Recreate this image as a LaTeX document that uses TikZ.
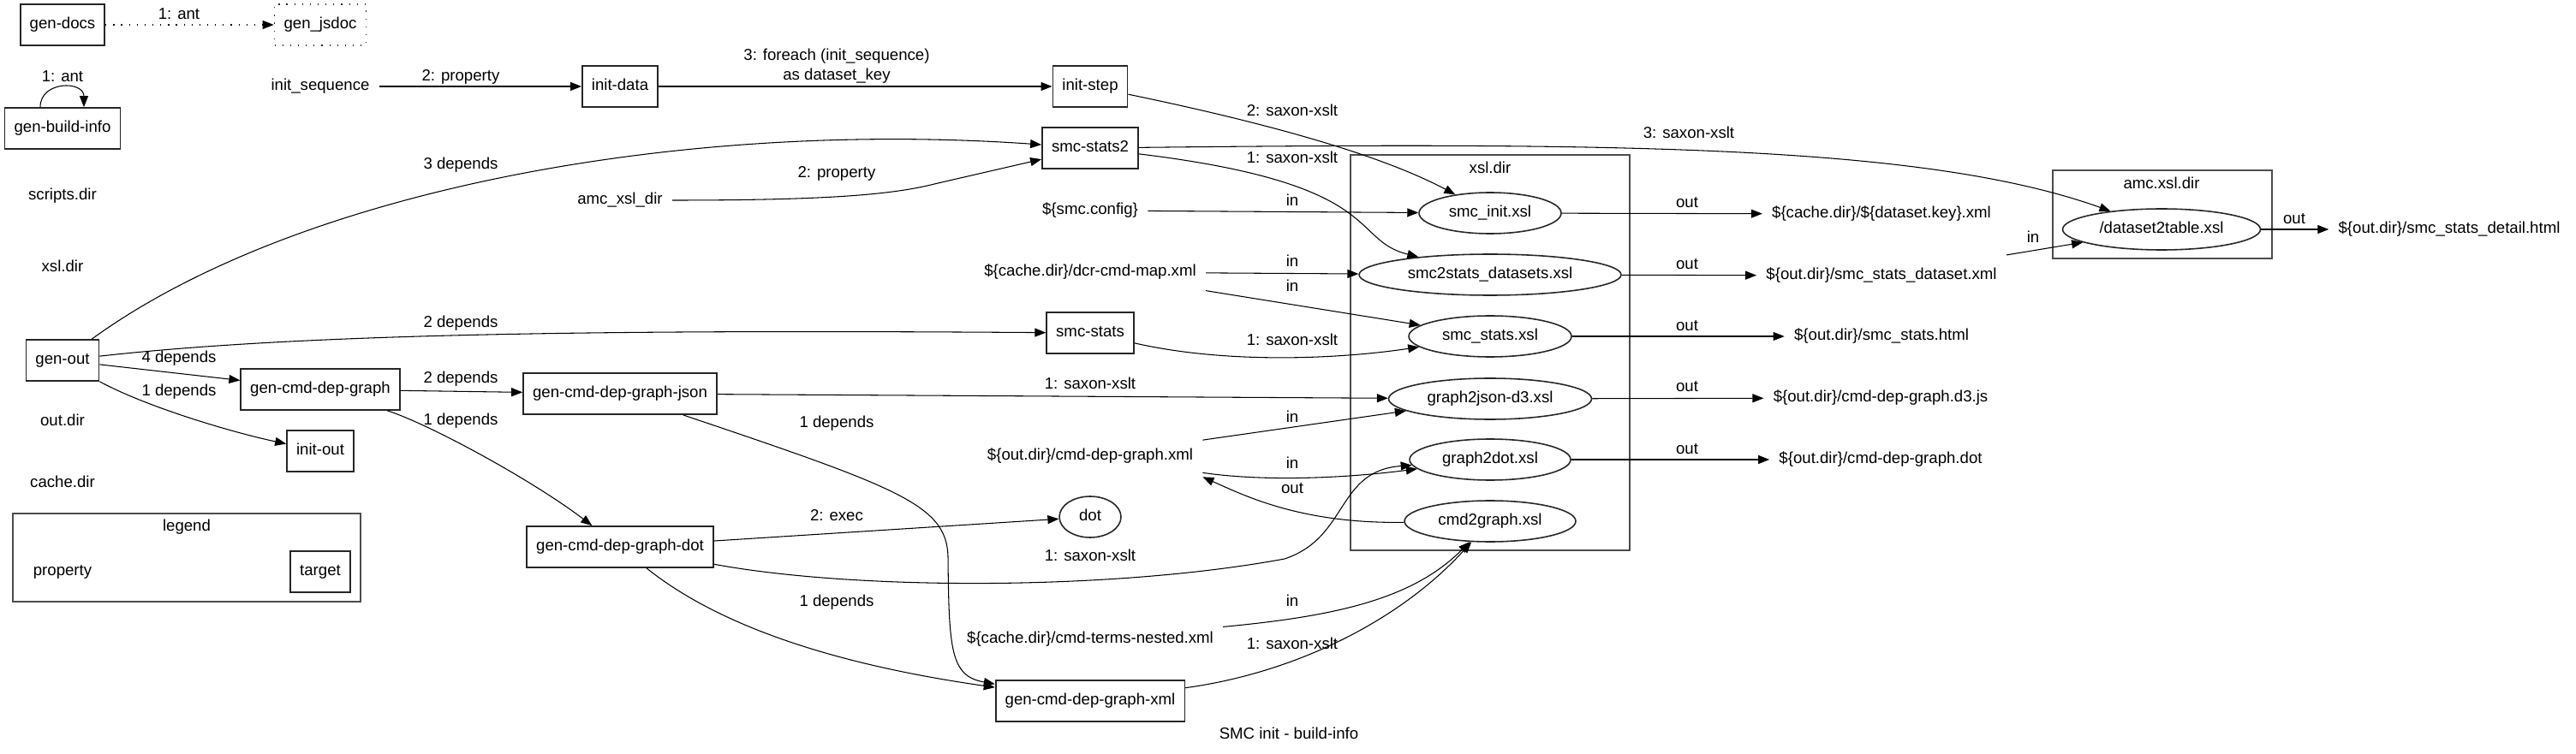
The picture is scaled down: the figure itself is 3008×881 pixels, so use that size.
\documentclass[tikz,border=0pt]{standalone}
\usepackage{fontspec}
\setmainfont{Liberation Sans}
\usepackage{tikz}
\usetikzlibrary{positioning}
\usetikzlibrary{shapes.geometric}
\usetikzlibrary{arrows.meta}
\tikzset{target/.style={rectangle, draw=black!85, line width=1pt, minimum height=0.96cm, inner xsep=0.22cm, text height=0.72em, text depth=0.21em}}
\tikzset{xslfile/.style={ellipse, draw=black!85, line width=0.9pt, minimum height=0.96cm, inner sep=0pt, text height=0.72em, text depth=0.21em}}
\tikzset{prop/.style={rectangle, minimum height=0.96cm, inner xsep=0.22cm, text height=0.72em, text depth=0.21em}}
\tikzset{lbl/.style={inner sep=0pt, text height=0.72em, text depth=0.21em}}
\tikzset{cluster/.style={draw=black!70, line width=0.9pt}}
\tikzset{arr/.style={-{Triangle[length=0.26cm,width=0.2cm]}, line width=0.6pt}}

\begin{document}
\begin{tikzpicture}[x=0.02cm, y=-0.02cm, font=\fontsize{10.6}{13}\selectfont]
        \useasboundingbox (0,0) rectangle (3008,881);

        % clusters
        \draw [cluster] (1577,181) rectangle (1903,643);
        \node [lbl](xsldirtitle) at (1740,198){xsl.dir};
        \draw [cluster] (2397,199) rectangle (2653,302);
        \node [lbl](amcdirtitle) at (2524,216){amc.xsl.dir};
        \draw [cluster] (15,600) rectangle (421,703);
        \node [lbl](legendtitle) at (218,616){legend};

        % targets
        \node [draw, target](gendocs) at (73,29){gen-docs};
        \node [draw, target, dash pattern=on 0.7pt off 4.5pt](genjsdoc) at (374,29){gen\_jsdoc};
        \node [draw, target](genbuildinfo) at (73,150){gen-build-info};
        \node [draw, target](initdata) at (724,101){init-data};
        \node [draw, target](initstep) at (1273,101){init-step};
        \node [draw, target](smcstatstwo) at (1273,173){smc-stats2};
        \node [draw, target](smcstats) at (1273,389){smc-stats};
        \node [draw, target](genout) at (73,421){gen-out};
        \node [draw, target](gcdg) at (374,455){gen-cmd-dep-graph};
        \node [draw, target](gcdgjson) at (724,460){gen-cmd-dep-graph-json};
        \node [draw, target](initout) at (374,527){init-out};
        \node [draw, target](gcdgdot) at (724,639){gen-cmd-dep-graph-dot};
        \node [draw, target](gcdgxml) at (1273,819){gen-cmd-dep-graph-xml};
        \node [draw, target](legtarget) at (374,668){target};

        % properties and files
        \node [prop](initsequence) at (374,101){init\_sequence};
        \node [prop](scriptsdir) at (73,229){scripts.dir};
        \node [prop](amcxsldir) at (724,234){amc\_xsl\_dir};
        \node [prop](xsldir) at (73,313){xsl.dir};
        \node [prop](outdir) at (73,493){out.dir};
        \node [prop](cachedir) at (73,565){cache.dir};
        \node [prop](legprop) at (73,668){property};
        \node [prop](smcconfig) at (1273,246){\$\{smc.config\}};
        \node [prop](dcrmap) at (1273,318){\$\{cache.dir\}/dcr-cmd-map.xml};
        \node [prop](cmdxml) at (1273,533){\$\{out.dir\}/cmd-dep-graph.xml};
        \node [prop](termsxml) at (1273,747){\$\{cache.dir\}/cmd-terms-nested.xml};
        \node [prop](keyxml) at (2197,250){\$\{cache.dir\}/\$\{dataset.key\}.xml};
        \node [prop](datasetxml) at (2197,322){\$\{out.dir\}/smc\_stats\_dataset.xml};
        \node [prop](statshtml) at (2197,393){\$\{out.dir\}/smc\_stats.html};
        \node [prop](djs) at (2196,465){\$\{out.dir\}/cmd-dep-graph.d3.js};
        \node [prop](ddot) at (2196,537){\$\{out.dir\}/cmd-dep-graph.dot};
        \node [prop](detailhtml) at (2860,268){\$\{out.dir\}/smc\_stats\_detail.html};

        % stylesheets
        \node [draw, xslfile, minimum width=3.32cm](smcinit) at (1740,249){smc\_init.xsl};
        \node [draw, xslfile, minimum width=6.12cm](smcdatasets) at (1740,321){smc2stats\_datasets.xsl};
        \node [draw, xslfile, minimum width=3.8cm](smcstatsxsl) at (1740,393){smc\_stats.xsl};
        \node [draw, xslfile, minimum width=4.74cm](graphjson) at (1740,466){graph2json-d3.xsl};
        \node [draw, xslfile, minimum width=3.76cm](graphdot) at (1740,537){graph2dot.xsl};
        \node [draw, xslfile, minimum width=4cm](cmdgraph) at (1740,609){cmd2graph.xsl};
        \node [draw, xslfile, minimum width=4.62cm](datasettable) at (2524,268){/dataset2table.xsl};
        \node [draw, xslfile, minimum width=1.44cm](dotexec) at (1273,604){dot};

        % edge labels
        \node [lbl](lantone) at (209,18){1: ant};
        \node [lbl](lanttwo) at (73,91){1: ant};
        \node [lbl](lpropone) at (538,90){2: property};
        \node [align=center, inner sep=0pt](lforeach) at (977,77){3: foreach (init\_sequence)\\as dataset\_key};
        \node [lbl](lsxtwo) at (1509,131){2: saxon-xslt};
        \node [lbl](lsxthree) at (1972,157){3: saxon-xslt};
        \node [lbl](lsxa) at (1509,186){1: saxon-xslt};
        \node [lbl](lproptwo) at (977,203){2: property};
        \node [lbl](ldepthree) at (538,193){3 depends};
        \node [lbl](lina) at (1509,236){in};
        \node [lbl](louta) at (1970,238){out};
        \node [lbl](linb) at (1509,307){in};
        \node [lbl](linc) at (1509,336){in};
        \node [lbl](loutb) at (1970,310){out};
        \node [lbl](lind) at (2374,279){in};
        \node [lbl](loutc) at (2679,257){out};
        \node [lbl](ldeptwoa) at (538,378){2 depends};
        \node [lbl](lsxb) at (1509,399){1: saxon-xslt};
        \node [lbl](loutd) at (1970,382){out};
        \node [lbl](ldepfour) at (209,419){4 depends};
        \node [lbl](ldeponea) at (209,458){1 depends};
        \node [lbl](ldeptwob) at (538,443){2 depends};
        \node [lbl](ldeponeb) at (538,492){1 depends};
        \node [lbl](lsxc) at (1273,450){1: saxon-xslt};
        \node [lbl](ldeponec) at (977,495){1 depends};
        \node [lbl](line) at (1509,489){in};
        \node [lbl](loute) at (1970,453){out};
        \node [lbl](linf) at (1509,543){in};
        \node [lbl](loutf) at (1970,526){out};
        \node [lbl](loutg) at (1509,572){out};
        \node [lbl](lexec) at (977,604){2: exec};
        \node [lbl](lsxd) at (1273,651){1: saxon-xslt};
        \node [lbl](ldeponed) at (977,704){1 depends};
        \node [lbl](ling) at (1509,704){in};
        \node [lbl](lsxe) at (1509,754){1: saxon-xslt};
        \node [lbl](title) at (1505,859){SMC init - build-info};

        \draw [arr, dash pattern=on 0.7pt off 4.5pt] (gendocs) -- (genjsdoc);
        \draw [arr] ([xshift=-0.52cm]genbuildinfo.north) .. controls +(0,0.62cm) and +(0,0.62cm) .. ([xshift=0.5cm]genbuildinfo.north);
        \draw [arr] (initsequence) -- (initdata);
        \draw [arr] (initdata) -- (initstep);
        \draw [arr] (initstep) .. controls (1500,148) and (1620,185) .. (smcinit);
        \draw [arr] (smcstatstwo) .. controls (1900,166) and (2250,170) .. (datasettable);
        \draw [arr] (smcstatstwo) .. controls (1620,215) and (1575,280) .. (smcdatasets);
        \draw [arr] (amcxsldir) .. controls (960,234) and (1040,228) .. (1091,215) -- (smcstatstwo);
        \draw [arr] (genout) .. controls (350,220) and (800,140) .. (smcstatstwo);
        \draw [arr] (smcconfig) -- (smcinit);
        \draw [arr] (smcinit) -- (keyxml);
        \draw [arr] (dcrmap) -- (smcdatasets);
        \draw [arr] (dcrmap) -- (smcstatsxsl);
        \draw [arr] (smcdatasets) -- (datasetxml);
        \draw [arr] (datasetxml) -- (datasettable);
        \draw [arr] (datasettable) -- (detailhtml);
        \draw [arr] (genout) .. controls (350,390) and (700,385) .. (smcstats);
        \draw [arr] (smcstats) .. controls (1430,425) and (1560,420) .. (smcstatsxsl);
        \draw [arr] (smcstatsxsl) -- (statshtml);
        \draw [arr] (genout) -- (gcdg);
        \draw [arr] (genout.south east) .. controls (170,475) and (270,505) .. (initout);
        \draw [arr] (gcdg) -- (gcdgjson);
        \draw [arr] (gcdg) .. controls (500,495) and (620,560) .. (gcdgdot);
        \draw [arr] (gcdgjson) -- (graphjson);
        \draw [arr] (gcdgjson) .. controls (1050,570) and (1105,590) .. (1107,650) .. controls (1108,760) and (1110,790) .. (gcdgxml);
        \draw [arr] (cmdxml) -- (graphjson);
        \draw [arr] (cmdxml) .. controls (1470,562) and (1560,560) .. (graphdot);
        \draw [arr] (cmdgraph) .. controls (1520,612) and (1455,580) .. (cmdxml.south east);
        \draw [arr] (graphjson) -- (djs);
        \draw [arr] (graphdot) -- (ddot);
        \draw [arr] (gcdgdot) -- (dotexec);
        \draw [arr] (gcdgdot) .. controls (1000,690) and (1300,690) .. (1500,653) .. controls (1575,628) and (1560,550) .. (graphdot);
        \draw [arr] (gcdgdot) .. controls (850,740) and (1000,780) .. (gcdgxml);
        \draw [arr] (termsxml) .. controls (1560,720) and (1650,700) .. (cmdgraph);
        \draw [arr] (gcdgxml) .. controls (1520,785) and (1640,720) .. (cmdgraph);
\end{tikzpicture}
\end{document}
